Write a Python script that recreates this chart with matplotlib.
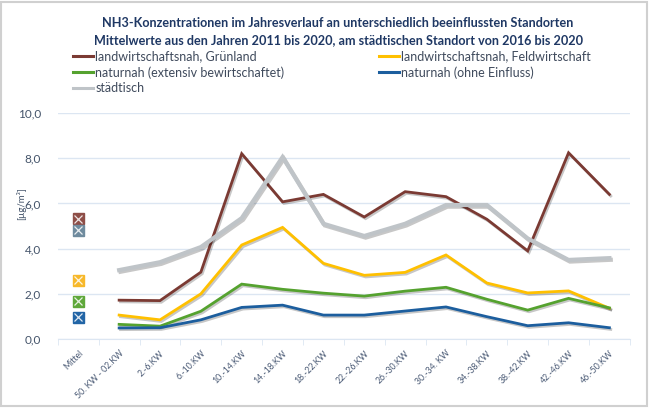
import matplotlib.pyplot as plt
import matplotlib.patheffects as pe
from matplotlib.patches import Rectangle
from matplotlib.ticker import FuncFormatter

plt.rcParams['font.family'] = ['Lato', 'DejaVu Sans']

# Kategorien (Kalenderwochen)
kategorien = ["50. KW - 02.KW", "2.-6.KW", "6.-10.KW", "10.-14.KW", "14.-18.KW",
              "18.-22.KW", "22.-26.KW", "26.-30.KW", "30.-34. KW", "34.-38.KW",
              "38.-42.KW", "42.-46.KW", "46.-50.KW"]

gruenland = [1.72, 1.70, 2.96, 8.20, 6.07, 6.40, 5.40, 6.52, 6.30, 5.30, 3.90, 8.24, 6.40]
feld = [1.06, 0.85, 2.00, 4.16, 4.94, 3.35, 2.82, 2.95, 3.72, 2.48, 2.04, 2.13, 1.36]
extensiv = [0.65, 0.57, 1.23, 2.43, 2.20, 2.03, 1.90, 2.12, 2.29, 1.76, 1.28, 1.80, 1.38]
ohne = [0.49, 0.50, 0.85, 1.40, 1.50, 1.06, 1.06, 1.24, 1.42, 0.99, 0.59, 0.72, 0.50]
staedtisch = [3.05, 3.40, 4.07, 5.35, 8.05, 5.10, 4.56, 5.10, 5.93, 5.93, 4.45, 3.50, 3.58]

# Mittelwerte
mittel = {"gruenland": 5.32, "staedtisch": 4.82, "feld": 2.60, "extensiv": 1.68, "ohne": 0.97}

fig = plt.figure(figsize=(6.5, 4.08), dpi=100)
ax = fig.add_axes([0.089, 0.169, 0.88, 0.554])

x = list(range(1, len(kategorien) + 1))
schatten = [pe.SimpleLineShadow(offset=(1, -1.2), alpha=0.22), pe.Normal()]

serien = [
    ("landwirtschaftsnah, Grünland", gruenland, "#7B3A33", 2.0, "gruenland", "#8E4E47"),
    ("landwirtschaftsnah, Feldwirtschaft", feld, "#FFC000", 2.0, "feld", "#F7B82A"),
    ("naturnah (extensiv bewirtschaftet)", extensiv, "#55A22F", 2.0, "extensiv", "#5FA83A"),
    ("naturnah (ohne Einfluss)", ohne, "#1C5E9E", 2.0, "ohne", "#2265A6"),
    ("städtisch", staedtisch, "#BFC4C8", 3.0, "staedtisch", "#6F8B9E"),
]

handles = {}
for name, werte, farbe, lw, key, mfarbe in serien:
    h, = ax.plot(x, werte, color=farbe, lw=lw, label=name, path_effects=schatten,
                 solid_joinstyle='miter')
    handles[key] = h
for name, werte, farbe, lw, key, mfarbe in serien:
    ax.plot(0, mittel[key], marker='s', ms=8, color=mfarbe, ls='none',
            path_effects=[pe.SimplePatchShadow(offset=(0.8, -0.8), alpha=0.3), pe.Normal()])
    ax.plot(0, mittel[key], marker='x', ms=6, mew=0.9, color='white', ls='none', alpha=0.85)

ax.set_xlim(-0.5, 13.45)
ax.set_ylim(0, 10)
ax.set_yticks([0, 2, 4, 6, 8, 10])
ax.yaxis.set_major_formatter(FuncFormatter(lambda v, p: f"{v:.1f}".replace('.', ',')))
ax.grid(axis='y', color='#DCE6F2', lw=1)
ax.set_axisbelow(True)

ax.set_xticks([0] + x)
ax.set_xticklabels(["Mittel"] + kategorien, rotation=45, ha='right', rotation_mode='anchor',
                   fontsize=6.3, color='#4A5A75')
ax.set_xticks([i + 0.5 for i in range(-1, 14)], minor=True)
ax.tick_params(axis='x', which='major', length=0, pad=7)
ax.tick_params(axis='x', which='minor', length=4, color='#DCE6F2')
ax.tick_params(axis='y', length=0, labelsize=8.5, labelcolor='#44546A', pad=12)

for s in ['top', 'right', 'left']:
    ax.spines[s].set_visible(False)
ax.spines['bottom'].set_color('#DCE6F2')

ax.set_ylabel("[µg/m³]", fontsize=7, color='#44546A', labelpad=4)
ax.yaxis.set_label_coords(-0.055, 0.6)

fig.text(0.52, 0.958, "NH3-Konzentrationen im Jahresverlauf an unterschiedlich beeinflussten Standorten\n"
         "Mittelwerte aus den Jahren 2011 bis 2020, am städtischen Standort von 2016 bis 2020",
         ha='center', va='top', fontsize=9.1, fontweight='bold', color='#1F3864', linespacing=1.45)

reihenfolge = ["gruenland", "extensiv", "staedtisch", "feld", "ohne"]
leg = ax.legend([handles[k] for k in reihenfolge], [handles[k].get_label() for k in reihenfolge],
                loc='upper left', bbox_to_anchor=(0.105, 0.889), bbox_transform=fig.transFigure,
                ncol=2, frameon=False, fontsize=9.0, labelcolor='#3F4A5C', handlelength=1.6,
                handletextpad=0.15, columnspacing=7.6, labelspacing=0.3, borderaxespad=0)
for line in leg.get_lines():
    line.set_linewidth(2.2)
    line.set_path_effects([])

fig.patches.append(Rectangle((0.002, 0.004), 0.994, 0.992, transform=fig.transFigure,
                             fill=False, edgecolor='#D0D0D0', lw=1.5))

fig.savefig("out.png", dpi=100)
